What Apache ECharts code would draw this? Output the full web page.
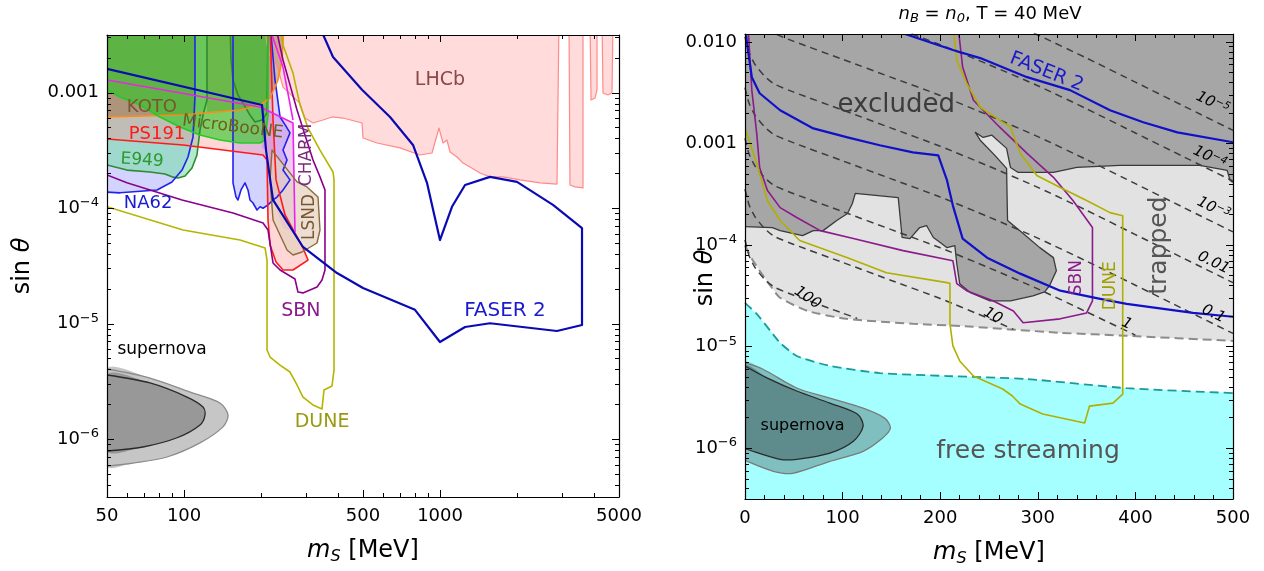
<!DOCTYPE html>
<html><head><meta charset="utf-8">
<script src="https://cdn.jsdelivr.net/npm/echarts@6/dist/echarts.min.js"></script>
<style>html,body{margin:0;padding:0;background:#fff}#c{width:1264px;height:571px}</style>
</head><body><div id="c"></div><script>
const FONT = '"DejaVu Sans", sans-serif';
const lg = Math.log10;

// ---------------- tick values ----------------
const LX_LABELS = [50, 100, 500, 1000, 5000];
const LX_MAJOR = [100, 500, 1000];
const LX_MINOR = [60, 70, 80, 90, 200, 300, 400, 600, 700, 800, 900, 2000, 3000, 4000];
const LY_LABELS = [1e-6, 1e-5, 1e-4, 1e-3];
const LY_MINOR = [4e-7,5e-7,6e-7,7e-7,8e-7,9e-7,2e-6,3e-6,4e-6,5e-6,6e-6,7e-6,8e-6,9e-6,2e-5,3e-5,4e-5,5e-5,6e-5,7e-5,8e-5,9e-5,2e-4,3e-4,4e-4,5e-4,6e-4,7e-4,8e-4,9e-4,2e-3,3e-3];
const RY_LABELS = [1e-6, 1e-5, 1e-4, 1e-3, 1e-2];
const RY_MINOR = [4e-7,5e-7,6e-7,7e-7,8e-7,9e-7,2e-6,3e-6,4e-6,5e-6,6e-6,7e-6,8e-6,9e-6,2e-5,3e-5,4e-5,5e-5,6e-5,7e-5,8e-5,9e-5,2e-4,3e-4,4e-4,5e-4,6e-4,7e-4,8e-4,9e-4,2e-3,3e-3,4e-3,5e-3,6e-3,7e-3,8e-3,9e-3];

// ---------------- left panel data: [m_S (MeV), sin theta] ----------------
const LT = 4e-3; // beyond top edge
const LHCB = [[205,LT],[212.8,2.34e-3],[220.6,1.92e-3],[230.7,1.74e-3],[243.5,1.12e-3],[283.7,8.1e-4],[296.7,6.04e-4],[318.9,5.47e-4],[348.9,5.81e-4],[378.4,6.17e-4],[417.8,6.04e-4],[495.6,5.47e-4],[500,4.06e-4],[567,3.67e-4],[697,3.33e-4],[835,2.89e-4],[930,3.01e-4],[973,4.31e-4],[990,4.95e-4],[1027,3.67e-4],[1064,3.9e-4],[1094,3.07e-4],[1165,2.78e-4],[1229,2.46e-4],[1309,2.28e-4],[1432,2.02e-4],[1567,1.87e-4],[1762,1.87e-4],[2053,1.76e-4],[2457,1.66e-4],[2862,1.62e-4],[2914,LT]];
const LHCB_B1 = [[3189,LT],[3217,1.59e-4],[3366,1.53e-4],[3617,1.5e-4],[3617,LT]];
const LHCB_B2 = [[3853,LT],[3888,8.65e-4],[4030,9.0e-4],[4103,1.06e-3],[4103,LT]];
const LHCB_B3 = [[4292,LT],[4331,9.95e-4],[4529,9.57e-4],[4695,1.0e-3],[4737,LT]];
const NA62_1 = [[50,1.38e-4],[56.2,1.36e-4],[78.4,1.44e-4],[89.7,1.69e-4],[98.2,2.14e-4],[103.6,2.78e-4],[108.4,4.14e-4],[110.3,9.2e-4],[110.3,LT]];
const NA62_2 = [[155.3,LT],[155.3,1.66e-4],[159.6,1.25e-4],[162.4,1.18e-4],[166.9,1.44e-4],[173,1.66e-4],[177.7,1.44e-4],[180.9,1.18e-4],[185.9,1.11e-4],[192.7,9.66e-5],[198.1,1.03e-4],[203.5,1.0e-4],[212.8,1.07e-4],[222.6,1.18e-4],[230.7,1.25e-4],[243.5,1.44e-4],[259.3,1.76e-4],[243.5,2.14e-4],[252.5,2.62e-4],[243.5,3.19e-4],[259.3,4.49e-4],[248,5.3e-4],[237.1,6.17e-4],[226.6,1.29e-3],[216.7,LT]];
const E949_1 = [[50,2.37e-4],[59.8,2.14e-4],[73.6,2.06e-4],[84.2,1.98e-4],[89.7,1.87e-4],[94.7,1.83e-4],[100.9,1.9e-4],[107.4,2.23e-4],[112.3,2.89e-4],[115.4,4.75e-4],[118.6,6.41e-4],[122.9,8.65e-4],[122.9,LT]];
const E949_2 = [[151.2,LT],[152.6,1.92e-3],[155.3,1.29e-3],[162.4,9.57e-4],[169.9,8.15e-4],[180.9,6.41e-4],[189.3,5.58e-4],[201.6,5.81e-4],[210.9,6.68e-4],[212.8,LT]];
const PS191 = [[50,3.98e-4],[99.1,3.53e-4],[203.5,2.89e-4],[210.9,2.62e-4],[212.8,7.91e-5],[216.7,4.81e-5],[228.7,3.43e-5],[243.5,2.92e-5],[266.4,2.92e-5],[304.9,3.56e-5],[291.4,4.53e-5],[248,8.75e-5],[228.7,1.76e-4],[222.6,5.81e-4],[220.6,1.06e-3],[216.7,LT]];
const KOTO_1 = [[50,6.17e-4],[99.1,6.41e-4],[110.3,6.5e-4],[110.3,LT]];
const KOTO_2 = [[122.9,LT],[122.9,6.8e-4],[165.4,7.09e-4],[198.1,7.83e-4],[216.7,9.01e-4],[232.8,1.29e-3],[241.3,1.92e-3],[245.7,LT]];
const KOTO_LINE = [[50,6.17e-4],[99.1,6.41e-4],[165.4,7.09e-4],[198.1,7.83e-4],[216.7,9.01e-4],[232.8,1.29e-3],[241.3,1.92e-3],[245.7,LT]];
const MICROBOONE = [[50,1.06e-3],[56.2,9.19e-4],[67.3,7.83e-4],[80.5,6.17e-4],[96.4,5.05e-4],[115.4,4.31e-4],[138.1,3.9e-4],[165.4,3.67e-4],[198.1,3.67e-4],[207.2,3.9e-4],[212.8,6.41e-4],[212.8,LT]];
const CHARM_FILL = [[201.6,7.7e-4],[266.4,5.47e-4],[271.2,6.22e-5],[243.5,6.74e-5],[226.6,1.07e-4],[216.7,2.14e-4],[212.8,3.19e-4],[201.6,3.3e-4]];
const CHARM_LINE1 = [[50,1.29e-3],[198.1,7.53e-4],[266.4,5.47e-4],[271.2,6.22e-5]];
const CHARM_LINE2 = [[212.8,LT],[243.5,1.67e-3],[266.4,5.81e-4]];
const LSND = [[220.6,3.19e-4],[276.2,1.69e-4],[302.1,1.53e-4],[333.6,1.25e-4],[339.6,6.48e-5],[330.6,5.0e-5],[288.9,4.18e-5],[266.4,3.94e-5],[252.5,4.35e-5],[222.6,7.91e-5],[216.7,1.76e-4]];
const SBN_L = [[50,1.94e-4],[59.8,1.66e-4],[98.2,1.18e-4],[155.3,9.1e-5],[203.5,7.45e-5],[212.8,6.48e-5],[222.6,3.36e-5],[237.1,2.92e-5],[271.2,2.44e-5],[278.6,1.88e-5],[291.4,1.85e-5],[330.6,2.08e-5],[345.8,2.39e-5],[355.2,2.92e-5],[355.2,1.44e-4],[339.6,1.87e-4],[318.9,2.62e-4],[296.7,4.31e-4],[276.2,7.09e-4],[259.3,1.17e-3],[243.5,1.92e-3],[226.6,LT]];
const DUNE_L = [[50,1.03e-4],[99.1,6.48e-5],[165.4,5.31e-5],[207.2,4.53e-5],[210.9,3.56e-5],[210.9,5.93e-6],[216.7,5.15e-6],[237.1,4.39e-6],[259.3,3.82e-6],[276.2,2.95e-6],[291.4,2.32e-6],[318.9,1.98e-6],[345.8,1.83e-6],[352.1,2.67e-6],[378.4,2.89e-6],[385.3,3.98e-6],[385.3,1.76e-4],[381.8,2.06e-4],[339.6,3.19e-4],[304.9,4.95e-4],[283.7,7.83e-4],[266.4,1.48e-3],[243.5,2.59e-3],[235,LT]];
const FASER2_L = [[50,1.61e-3],[201.6,7.83e-4],[209,3.19e-4],[222.6,1.18e-4],[291.4,4.62e-5],[395.8,2.75e-5],[500,2.04e-5],[798,1.32e-5],[999,6.95e-6],[1252,9.37e-6],[1567,1.01e-5],[2862,8.65e-6],[3585,9.75e-6],[3585,6.74e-5],[2761,1.07e-4],[1998,1.69e-4],[1567,1.87e-4],[1252,1.59e-4],[1113,1.03e-4],[999,5.31e-5],[889,1.66e-4],[784,3.53e-4],[637.6,6.17e-4],[495.6,1.06e-3],[381.8,2.04e-3],[333.6,LT]];
const SN_OUT_L = [[50,4.06e-6],[73.6,3.39e-6],[108.4,2.51e-6],[138.1,2.06e-6],[148.5,1.62e-6],[141.9,1.28e-6],[115.4,9.29e-7],[85.8,7.02e-7],[63.2,6.22e-7],[50,5.86e-7]];
const SN_IN_L = [[50,3.6e-6],[73.6,3.07e-6],[102.7,2.32e-6],[118.6,1.9e-6],[120.7,1.62e-6],[115.4,1.33e-6],[93.9,1.03e-6],[69.1,8.57e-7],[50,7.91e-7]];

// ---------------- right panel data: [m_S (MeV), sin theta] ----------------
const RT = 0.015;
const RB = 1e-7;
const TRAP_B = [[0,9.9e-5],[7,7.36e-5],[15,5.6e-5],[26,3.98e-5],[36,3.03e-5],[64,2.25e-5],[104,1.88e-5],[172,1.68e-5],[220,1.6e-5],[323,1.37e-5],[391,1.28e-5],[500,1.14e-5]];
const FREE_B = [[0,2.7e-5],[12,2.1e-5],[26,1.43e-5],[36,1.09e-5],[53,8.1e-6],[87,6.46e-6],[138,5.5e-6],[207,5.14e-6],[289,4.8e-6],[391,3.9e-6],[500,3.49e-6]];
const EXCL = [[0,1.52e-4],[28,1.49e-4],[36,1.39e-4],[59,1.24e-4],[70,1.39e-4],[80,1.39e-4],[94,1.75e-4],[105,2.05e-4],[110,2.57e-4],[113,3.23e-4],[157,2.94e-4],[161,1.19e-4],[169,1.16e-4],[179,1.49e-4],[186,1.56e-4],[193,1.19e-4],[200,1.06e-4],[207,9.44e-5],[215,9.89e-5],[217,6.56e-5],[220,4.17e-5],[231,3.4e-5],[251,2.83e-5],[272,2.83e-5],[295,3.17e-5],[307,3.47e-5],[312,3.98e-5],[319,5.6e-5],[316,7.53e-5],[302,9.45e-5],[285,1.3e-4],[269,1.75e-4],[268,5.7e-4],[256,7.66e-4],[241,1.08e-3],[236,1.29e-3],[244,1.15e-3],[253,1.21e-3],[268,8.97e-4],[272,5.82e-4],[280,5.2e-4],[316,5.2e-4],[340,5.82e-4],[384,6.1e-4],[466,6.1e-4],[494,5.45e-4],[497,4.34e-4],[500,4.14e-4]];
const SN_OUT_R = [[0,6.92e-6],[18,6.03e-6],[53,3.92e-6],[87,3.12e-6],[121,2.48e-6],[143,1.98e-6],[149,1.58e-6],[141,1.26e-6],[121,9.33e-7],[87,7.44e-7],[49,5.66e-7],[29,5.93e-7],[2,7.44e-7],[0,7.78e-7]];
const SN_IN_R = [[0,6.46e-6],[23,4.91e-6],[53,3.66e-6],[87,2.78e-6],[115,2.17e-6],[121,1.65e-6],[111,1.17e-6],[87,8.93e-7],[53,7.78e-7],[36,7.78e-7],[2,9.77e-7],[0,1.0e-6]];
const FASER2_R_LOW = [[0,RT],[2,9.8e-3],[7,4.51e-3],[15,3.13e-3],[36,2.13e-3],[70,1.41e-3],[105,1.15e-3],[138,9.62e-4],[172,8.2e-4],[198,7.66e-4],[207,4.34e-4],[213,2.45e-4],[223,1.16e-4],[248,7.53e-5],[282,5.24e-5],[323,3.56e-5],[364,2.96e-5],[391,2.64e-5],[459,2.15e-5],[500,1.97e-5]];
const FASER2_R_UP = [[164,0.012],[213,8.34e-3],[241,6.95e-3],[289,4.51e-3],[333,3.36e-3],[374,2.13e-3],[408,1.62e-3],[443,1.29e-3],[500,1.03e-3]];
const SBN_R = [[3,RT],[7,3.36e-3],[12,1.26e-3],[15,5.82e-4],[23,3.45e-4],[36,2.34e-4],[53,1.87e-4],[77,1.39e-4],[111,1.16e-4],[162,8.83e-5],[213,7.03e-5],[217,4.17e-5],[227,3.56e-5],[254,2.83e-5],[275,2.25e-5],[285,1.72e-5],[323,1.88e-5],[350,2.15e-5],[356,2.83e-5],[356,1.49e-4],[336,2.75e-4],[316,4.65e-4],[289,8.02e-4],[261,1.45e-3],[234,2.67e-3],[223,5.67e-3],[218,RT]];
const DUNE_R = [[0,1.42e-3],[12,6.38e-4],[23,2.75e-4],[36,1.75e-4],[56,1.11e-4],[105,7.53e-5],[145,5.35e-5],[207,4.27e-5],[210,4.2e-5],[210,1.68e-5],[213,1.02e-5],[220,7.23e-6],[234,5.14e-6],[264,3.83e-6],[274,3.27e-6],[282,2.72e-6],[305,2.17e-6],[348,1.77e-6],[353,2.6e-6],[377,2.78e-6],[387,3.41e-6],[387,1.95e-4],[374,2.09e-4],[350,2.75e-4],[323,3.7e-4],[299,4.85e-4],[282,8.02e-4],[272,1.45e-3],[261,1.7e-3],[241,2.28e-3],[227,3.94e-3],[217,6.64e-3],[213,RT]];
// contour lines (dashed)
const CONT_M = [0, 4, 10, 20, 30, 50, 100, 150, 200, 250, 300, 350, 400, 450, 500];
const C_1E5 = [0.356, 0.252, 0.192, 0.146, 0.122, 0.1016, 0.0676, 0.0449, 0.0298, 0.0189, 0.01172, 0.00695, 0.00403, 0.00233, 0.00135];
const C_1E4 = [0.1126, 0.0797, 0.0607, 0.0462, 0.0386, 0.0321, 0.0214, 0.0142, 0.00942, 0.00598, 0.00371, 0.0022, 0.00127, 0.000737, 0.000427];
const C_1E3 = [0.0356, 0.0252, 0.0192, 0.0146, 0.0122, 0.01016, 0.00676, 0.00449, 0.00298, 0.00189, 0.001172, 0.000695, 0.000403, 0.000233, 0.000135];
const C_001 = [0.01126, 0.00797, 0.00607, 0.00462, 0.00386, 0.00321, 0.00214, 0.00142, 0.000942, 0.000598, 0.000371, 0.00022, 0.000127, 7.37e-5, 4.27e-5];
const C_01 = [0.00356, 0.00252, 0.00192, 0.00146, 0.00122, 0.001016, 0.000676, 0.000449, 0.000298, 0.000189, 0.0001172, 6.95e-5, 4.03e-5, 2.33e-5, 1.35e-5];
const C_1 = [[0,0.001126],[4,0.000797],[10,0.000607],[20,0.000462],[30,0.000386],[50,0.000321],[100,0.000214],[150,0.000142],[200,9.42e-5],[250,5.98e-5],[300,3.71e-5],[350,2.2e-5],[400,1.3e-5]];
const C_10 = [[0,0.000356],[4,0.000252],[10,0.000192],[20,0.000146],[30,0.000122],[50,0.0001016],[100,6.76e-5],[150,4.49e-5],[200,2.98e-5],[250,1.89e-5],[275,1.48e-5]];
const C_100 = [[0,0.0001126],[4,7.97e-5],[10,6.07e-5],[20,4.62e-5],[30,3.86e-5],[50,3.21e-5],[100,2.14e-5],[115,1.9e-5]];

// ---------------- text labels ----------------
const LABELS_L = [
  {t:'LHCb', m:999, s:1.29e-3, c:'#8b4848', fs:19},
  {t:'KOTO', m:74.9, s:7.5e-4, c:'#7a5530', fs:18},
  {t:'MicroBooNE', m:155, s:5.05e-4, c:'#6e5f1c', fs:17, rot:-0.12},
  {t:'PS191', m:78.4, s:4.4e-4, c:'#ff1a1a', fs:18},
  {t:'E949', m:68.5, s:2.6e-4, c:'#2a9a2a', fs:17, rot:-0.06},
  {t:'NA62', m:72.3, s:1.11e-4, c:'#1a1ad0', fs:18},
  {t:'CHARM', m:302, s:2.9e-4, c:'#7a2a7a', fs:17, rot:Math.PI/2},
  {t:'LSND', m:310, s:8.4e-5, c:'#7a5530', fs:17, rot:Math.PI/2},
  {t:'SBN', m:286, s:1.29e-5, c:'#8b1a8b', fs:19},
  {t:'DUNE', m:346, s:1.41e-6, c:'#9a9a10', fs:19},
  {t:'FASER 2', m:1793, s:1.29e-5, c:'#1a1ad0', fs:20},
  {t:'supernova', m:82, s:5.93e-6, c:'#000', fs:17}
];
const LABELS_R = [
  {t:'excluded', m:155, s:2.39e-3, c:'#3c3c3c', fs:26},
  {t:'trapped', m:425, s:9.9e-5, c:'#555', fs:25, rot:Math.PI/2},
  {t:'free streaming', m:290, s:9.3e-7, c:'#555', fs:25},
  {t:'supernova', m:59, s:1.65e-6, c:'#000', fs:16},
  {t:'FASER 2', m:309, s:5.06e-3, c:'#1a1acc', fs:19, rot:-0.38},
  {t:'SBN', m:340, s:4.78e-5, c:'#8b1a8b', fs:17, rot:Math.PI/2},
  {t:'DUNE', m:375, s:3.98e-5, c:'#a0a000', fs:17, rot:Math.PI/2},
  {t:'{b|10}{s|−5}', m:479, s:2.5e-3, c:'#000', fs:15, rot:-0.45, it:true},
  {t:'{b|10}{s|−4}', m:476, s:7.3e-4, c:'#000', fs:15, rot:-0.45, it:true},
  {t:'{b|10}{s|−3}', m:480, s:2.29e-4, c:'#000', fs:15, rot:-0.45, it:true},
  {t:'0.01', m:480, s:6.7e-5, c:'#000', fs:15, rot:-0.45, it:true},
  {t:'0.1', m:480, s:2.1e-5, c:'#000', fs:15, rot:-0.45, it:true},
  {t:'1', m:391, s:1.68e-5, c:'#000', fs:15, rot:-0.45, it:true},
  {t:'10', m:254, s:2.01e-5, c:'#000', fs:15, rot:-0.5, it:true},
  {t:'100', m:64, s:3.03e-5, c:'#000', fs:15, rot:-0.6, it:true}
];

// ---------------- helpers ----------------
const conL = p => [lg(p[0]), lg(p[1])];
const conR = p => [p[0], lg(p[1])];
const zip = (xs, ys) => xs.map((x, i) => [x, ys[i]]);

function shapeSeries(shapes, conv, xi, yi, z) {
  return {
    type: 'custom', xAxisIndex: xi, yAxisIndex: yi, z: z, silent: true, animation: false,
    data: shapes.map((s, i) => conv(s.pts[0]).concat([i])),
    encode: {x: 0, y: 1},
    renderItem: function (params, api) {
      const s = shapes[params.dataIndex];
      const cs = params.coordSys;
      const toPx = p => api.coord(conv(p));
      const kids = [];
      if (s.fill) kids.push({type: 'polygon', z2: 1, shape: {points: s.pts.concat(s.close || []).map(toPx), smooth: s.smooth || 0}, style: {fill: s.fill, stroke: 'none'}});
      if (s.stroke) kids.push({type: s.closed ? 'polygon' : 'polyline', z2: 2, shape: {points: s.pts.map(toPx), smooth: s.smooth || 0}, style: {fill: 'none', stroke: s.stroke, lineWidth: s.lw || 1.5, lineDash: s.dash || null, lineJoin: 'round'}});
      return {type: 'group', clipPath: {type: 'rect', shape: {x: cs.x, y: cs.y, width: cs.width, height: cs.height}}, children: kids};
    }
  };
}
function lineSeries(pts, conv, xi, yi, color, width, dash, z) {
  return {type: 'line', xAxisIndex: xi, yAxisIndex: yi, data: pts.map(conv), showSymbol: false, symbol: 'none',
    smooth: 0.2, silent: true, animation: false, z: z, clip: true, lineStyle: {color: color, width: width, type: dash}};
}
function labelSeries(labels, conv, xi, yi) {
  return {
    type: 'custom', xAxisIndex: xi, yAxisIndex: yi, z: 30, silent: true, animation: false,
    data: labels.map((l, i) => conv([l.m, l.s]).concat([i])),
    encode: {x: 0, y: 1},
    renderItem: function (params, api) {
      const l = labels[params.dataIndex];
      const p = api.coord(conv([l.m, l.s]));
      const fst = l.it ? 'italic' : 'normal';
      return {type: 'text', x: p[0], y: p[1], rotation: l.rot || 0,
        style: {text: l.t, fill: l.c, fontSize: l.fs, fontFamily: FONT, fontStyle: fst, align: 'center', verticalAlign: 'middle',
          rich: {b: {fontSize: l.fs, fontFamily: FONT, fontStyle: fst, fill: l.c, lineHeight: 18},
                 s: {fontSize: l.fs * 0.7, fontFamily: FONT, fontStyle: fst, fill: l.c, lineHeight: 9, verticalAlign: 'top'}}}};
    }
  };
}

// ---------------- shapes ----------------
const LEFT_FILLS = [
  {pts: LHCB, fill: 'rgba(255,160,160,0.38)'},
  {pts: LHCB_B1, fill: 'rgba(255,160,160,0.38)'},
  {pts: LHCB_B2, fill: 'rgba(255,160,160,0.38)'},
  {pts: LHCB_B3, fill: 'rgba(255,160,160,0.38)'},
  {pts: NA62_1, close: [[50, LT]], fill: 'rgba(175,175,255,0.55)'},
  {pts: NA62_2, fill: 'rgba(175,175,255,0.55)'},
  {pts: E949_1, close: [[50, LT]], fill: 'rgba(125,220,170,0.6)'},
  {pts: E949_2, fill: 'rgba(125,220,170,0.6)'},
  {pts: PS191, close: [[50, LT]], fill: 'rgba(255,140,140,0.35)'},
  {pts: KOTO_1, close: [[50, LT]], fill: 'rgba(150,100,50,0.45)'},
  {pts: KOTO_2, fill: 'rgba(150,100,50,0.45)'},
  {pts: CHARM_FILL, fill: 'rgba(205,110,215,0.35)'},
  {pts: MICROBOONE, close: [[50, LT]], fill: 'rgba(40,200,30,0.6)'},
  {pts: LSND, fill: 'rgba(228,210,190,0.7)'},
  {pts: SN_OUT_L, fill: '#c6c6c6', stroke: '#8c8c8c', lw: 1.3, smooth: 0.3},
  {pts: SN_IN_L, fill: '#989898', stroke: '#2a2a2a', lw: 1.3, smooth: 0.3}
];
const LEFT_LINES = [
  {pts: LHCB, stroke: '#ff8a8a', lw: 1.2},
  {pts: LHCB_B1, stroke: '#ff8a8a', lw: 1.2},
  {pts: LHCB_B2, stroke: '#ff8a8a', lw: 1.2},
  {pts: LHCB_B3, stroke: '#ff8a8a', lw: 1.2},
  {pts: E949_1, stroke: '#2e8b2e', lw: 1.6},
  {pts: E949_2, stroke: '#2e8b2e', lw: 1.6},
  {pts: NA62_1, stroke: '#2222ee', lw: 1.6},
  {pts: NA62_2, stroke: '#2222ee', lw: 1.6},
  {pts: PS191, stroke: '#ff1a1a', lw: 1.6},
  {pts: KOTO_LINE, stroke: '#ff8c1a', lw: 1.6},
  {pts: MICROBOONE, stroke: '#22cc22', lw: 1.6},
  {pts: CHARM_LINE1, stroke: '#ee22ee', lw: 1.6},
  {pts: CHARM_LINE2, stroke: '#ee22ee', lw: 1.6},
  {pts: LSND, stroke: '#8b6a3a', lw: 1.4, closed: true},
  {pts: SBN_L, stroke: '#8b008b', lw: 1.6},
  {pts: DUNE_L, stroke: '#b5b500', lw: 1.6},
  {pts: FASER2_L, stroke: '#0a0ab4', lw: 2.2}
];
const RIGHT_FILLS = [
  {pts: TRAP_B, close: [[500, RT], [0, RT]], fill: '#e2e2e2'},
  {pts: EXCL, close: [[500, RT], [0, RT]], fill: '#a6a6a6', stroke: '#3a3a3a', lw: 1.3},
  {pts: FREE_B, close: [[500, RB], [0, RB]], fill: '#a6ffff'},
  {pts: SN_OUT_R, fill: '#7fbfbf', stroke: '#7a7a7a', lw: 1.3, smooth: 0.3},
  {pts: SN_IN_R, fill: '#5e8c8c', stroke: '#2a2a2a', lw: 1.3, smooth: 0.3}
];
const RIGHT_LINES = [
  {pts: SBN_R, stroke: '#8b1a8b', lw: 1.6},
  {pts: DUNE_R, stroke: '#b0b000', lw: 1.6},
  {pts: FASER2_R_LOW, stroke: '#1010c8', lw: 2.2},
  {pts: FASER2_R_UP, stroke: '#1010c8', lw: 2.2}
];

// ---------------- axes ----------------
const TICK_MAJOR = {show: true, inside: true, length: 7, lineStyle: {color: '#000', width: 1}};
const TICK_MINOR = {show: true, inside: true, length: 4, lineStyle: {color: '#000', width: 1}};
const AXLINE = {show: true, onZero: false, lineStyle: {color: '#000', width: 1.2}};
const NOLINE = {show: false, onZero: false};
function ax(extra) {
  return Object.assign({type: 'value', splitLine: {show: false}, axisLine: NOLINE, axisTick: {show: false}, axisLabel: {show: false}, z: 10, silent: true, nameMoveOverlap: false}, extra);
}
const RICH_TICK = {
  b: {fontSize: 18, fontFamily: FONT, color: '#000', lineHeight: 24},
  s: {fontSize: 13, fontFamily: FONT, color: '#000', lineHeight: 12, verticalAlign: 'top'}
};
const NAME_RICH = {
  i: {fontFamily: FONT, fontSize: 24, fontStyle: 'italic', lineHeight: 28, color: '#000'},
  n: {fontFamily: FONT, fontSize: 24, lineHeight: 28, color: '#000'},
  sub: {fontFamily: FONT, fontSize: 16, fontStyle: 'italic', lineHeight: 12, verticalAlign: 'bottom', color: '#000'}
};
const NAME_RICH_G = {
  i: {fontFamily: FONT, fontSize: 24, fontStyle: 'italic', lineHeight: 28, fill: '#000'},
  n: {fontFamily: FONT, fontSize: 24, lineHeight: 28, fill: '#000'}
};
const expFmt = v => { const e = Math.round(v); return e === -2 ? '0.010' : e === -3 ? '0.001' : '{b|10}{s|−' + (-e) + '}'; };
const LXR = {min: lg(50), max: lg(5000)};
const LYR = {min: -6.5, max: -2.5};
const RXR = {min: 0, max: 500, interval: 100};
const RYR = {min: -6.5, max: lg(0.012)};

const xAxis = [
  ax(Object.assign({gridIndex: 0, position: 'bottom', axisLine: AXLINE,
    axisTick: Object.assign({customValues: LX_MAJOR.map(lg)}, TICK_MAJOR),
    axisLabel: {show: true, customValues: LX_LABELS.map(lg), formatter: v => String(Math.round(Math.pow(10, v))), fontSize: 18, fontFamily: FONT, color: '#000', margin: 10},
    name: '{i|m}{sub|S}{n| [MeV]}', nameLocation: 'middle', nameGap: 40, nameTextStyle: {rich: NAME_RICH}}, LXR)),
  ax(Object.assign({gridIndex: 0, position: 'bottom', axisTick: Object.assign({customValues: LX_MINOR.map(lg)}, TICK_MINOR)}, LXR)),
  ax(Object.assign({gridIndex: 0, position: 'top', axisLine: AXLINE, axisTick: Object.assign({customValues: LX_MAJOR.map(lg)}, TICK_MAJOR)}, LXR)),
  ax(Object.assign({gridIndex: 0, position: 'top', axisTick: Object.assign({customValues: LX_MINOR.map(lg)}, TICK_MINOR)}, LXR)),
  ax(Object.assign({gridIndex: 1, position: 'bottom', axisLine: AXLINE, axisTick: TICK_MAJOR,
    minorTick: {show: true, splitNumber: 5, length: 4, lineStyle: {color: '#000'}},
    axisLabel: {show: true, fontSize: 18, fontFamily: FONT, color: '#000', margin: 10},
    name: '{i|m}{sub|S}{n| [MeV]}', nameLocation: 'middle', nameGap: 40, nameTextStyle: {rich: NAME_RICH}}, RXR)),
  ax(Object.assign({gridIndex: 1, position: 'top', axisLine: AXLINE, axisTick: TICK_MAJOR,
    minorTick: {show: true, splitNumber: 5, length: 4, lineStyle: {color: '#000'}}}, RXR))
];
const yAxis = [
  ax(Object.assign({gridIndex: 0, position: 'left', axisLine: AXLINE,
    axisTick: Object.assign({customValues: LY_LABELS.map(lg)}, TICK_MAJOR),
    axisLabel: {show: true, customValues: LY_LABELS.map(lg), formatter: expFmt, rich: RICH_TICK, fontSize: 18, fontFamily: FONT, color: '#000', margin: 8},
    name: '{n|sin }{i|θ}', nameLocation: 'middle', nameRotate: 90, nameGap: 70, nameTextStyle: {rich: NAME_RICH}}, LYR)),
  ax(Object.assign({gridIndex: 0, position: 'left', axisTick: Object.assign({customValues: LY_MINOR.map(lg)}, TICK_MINOR)}, LYR)),
  ax(Object.assign({gridIndex: 0, position: 'right', axisLine: AXLINE, axisTick: Object.assign({customValues: LY_LABELS.map(lg)}, TICK_MAJOR)}, LYR)),
  ax(Object.assign({gridIndex: 0, position: 'right', axisTick: Object.assign({customValues: LY_MINOR.map(lg)}, TICK_MINOR)}, LYR)),
  ax(Object.assign({gridIndex: 1, position: 'left', axisLine: AXLINE,
    axisTick: Object.assign({customValues: RY_LABELS.map(lg)}, TICK_MAJOR),
    axisLabel: {show: true, customValues: RY_LABELS.map(lg), formatter: expFmt, rich: RICH_TICK, fontSize: 18, fontFamily: FONT, color: '#000', margin: 8}}, RYR)),
  ax(Object.assign({gridIndex: 1, position: 'left', axisTick: Object.assign({customValues: RY_MINOR.map(lg)}, TICK_MINOR)}, RYR)),
  ax(Object.assign({gridIndex: 1, position: 'right', axisLine: AXLINE, axisTick: Object.assign({customValues: RY_LABELS.map(lg)}, TICK_MAJOR)}, RYR)),
  ax(Object.assign({gridIndex: 1, position: 'right', axisTick: Object.assign({customValues: RY_MINOR.map(lg)}, TICK_MINOR)}, RYR))
];

const series = [
  shapeSeries(LEFT_FILLS, conL, 0, 0, 1),
  shapeSeries(LEFT_LINES, conL, 0, 0, 2),
  labelSeries(LABELS_L, conL, 0, 0),
  shapeSeries(RIGHT_FILLS, conR, 4, 4, 1),
  lineSeries(TRAP_B, conR, 4, 4, '#8c8c8c', 2, [9, 5], 3),
  lineSeries(FREE_B, conR, 4, 4, '#1a9a9a', 1.8, [9, 5], 3),
  lineSeries(zip(CONT_M, C_1E5), conR, 4, 4, '#3c3c3c', 1.5, [7, 5], 4),
  lineSeries(zip(CONT_M, C_1E4), conR, 4, 4, '#3c3c3c', 1.5, [7, 5], 4),
  lineSeries(zip(CONT_M, C_1E3), conR, 4, 4, '#3c3c3c', 1.5, [7, 5], 4),
  lineSeries(zip(CONT_M, C_001), conR, 4, 4, '#3c3c3c', 1.5, [7, 5], 4),
  lineSeries(zip(CONT_M, C_01), conR, 4, 4, '#3c3c3c', 1.5, [7, 5], 4),
  lineSeries(C_1, conR, 4, 4, '#3c3c3c', 1.5, [7, 5], 4),
  lineSeries(C_10, conR, 4, 4, '#3c3c3c', 1.5, [7, 5], 4),
  lineSeries(C_100, conR, 4, 4, '#3c3c3c', 1.5, [7, 5], 4),
  shapeSeries(RIGHT_LINES, conR, 4, 4, 5),
  labelSeries(LABELS_R, conR, 4, 4)
];

const chart = echarts.init(document.getElementById('c'), null, {renderer: 'canvas'});
chart.setOption({
  animation: false,
  backgroundColor: '#fff',
  grid: [
    {left: 107, top: 35, width: 512, height: 462, outerBoundsMode: 'none'},
    {left: 745, top: 34, width: 488, height: 465, outerBoundsMode: 'none'}
  ],
  xAxis: xAxis,
  yAxis: yAxis,
  graphic: [
    {type: 'text', x: 990, y: 14, z: 100,
      style: {text: '{i|n}{sub|B}{n| = }{i|n}{sub|0}{n|, T = 40 MeV}', align: 'center', verticalAlign: 'middle',
        rich: {i: {fontFamily: FONT, fontSize: 18, fontStyle: 'italic', lineHeight: 22, fill: '#000'},
               n: {fontFamily: FONT, fontSize: 18, lineHeight: 22, fill: '#000'},
               sub: {fontFamily: FONT, fontSize: 13, fontStyle: 'italic', lineHeight: 10, verticalAlign: 'bottom', fill: '#000'}}}},
    {type: 'text', x: 706, y: 278, rotation: Math.PI / 2, z: 100,
      style: {text: '{n|sin }{i|θ}', align: 'center', verticalAlign: 'middle', rich: NAME_RICH_G}}
  ],
  series: series
});
</script></body></html>
